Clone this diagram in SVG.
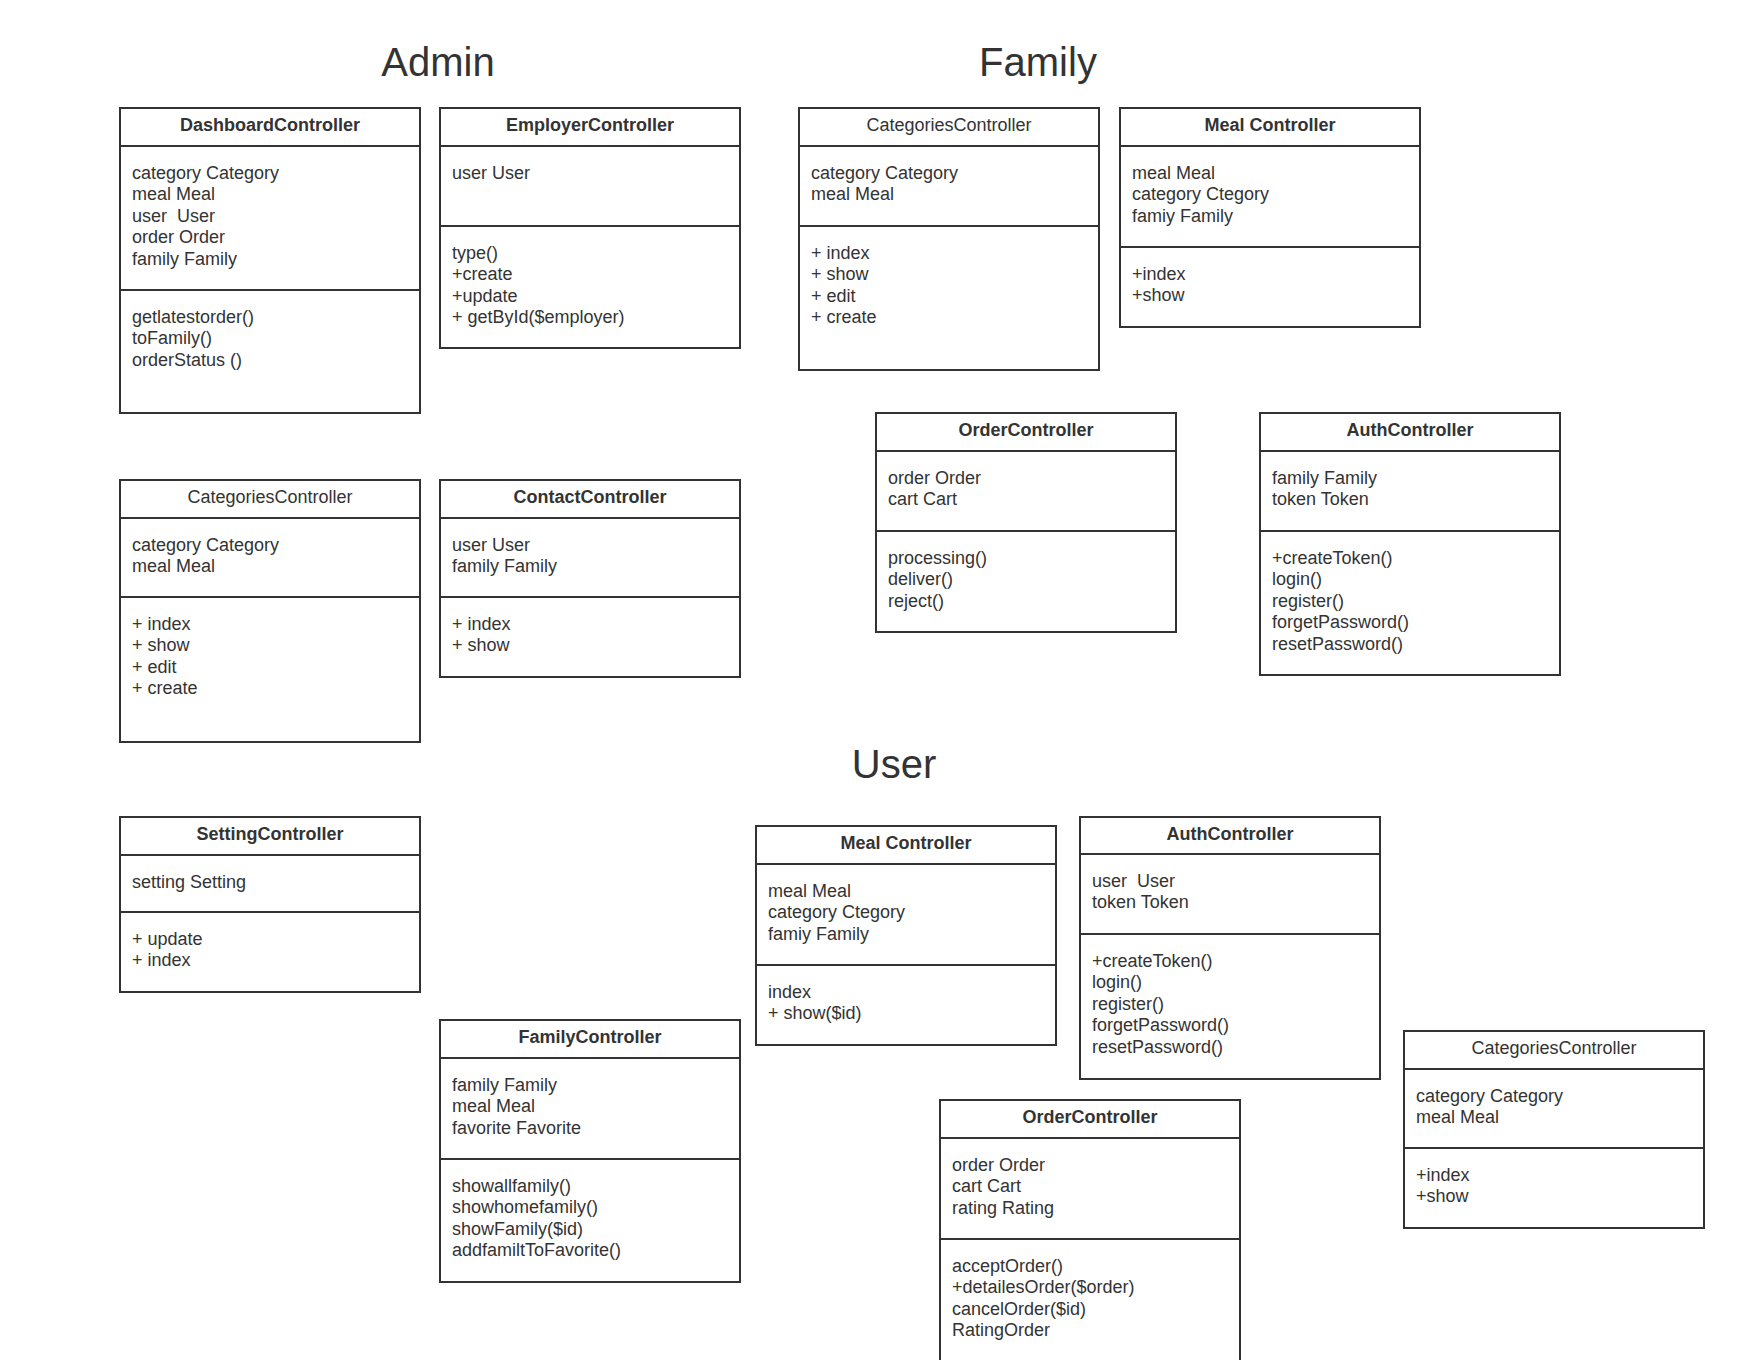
<svg xmlns="http://www.w3.org/2000/svg" width="1760" height="1360" viewBox="0 0 1760 1360">
<style>
.bg{fill:#ffffff}
.box{fill:#ffffff;stroke:#333333;stroke-width:2}
.sep{stroke:#333333;stroke-width:2;fill:none}
.t{font-family:"Liberation Sans",Arial,sans-serif;font-size:18px;fill:#333333;white-space:pre}
.n{font-family:"Liberation Sans",Arial,sans-serif;font-size:18px;fill:#333333;text-anchor:middle}
.nb{font-weight:bold}
.h{font-family:"Liberation Sans",Arial,sans-serif;font-size:40px;fill:#333333;text-anchor:middle}
</style>
<rect class="bg" x="0" y="0" width="1760" height="1360"/>
<g id="titles">
<text class="h" x="438" y="76">Admin</text>
<text class="h" x="1038" y="76">Family</text>
<text class="h" x="894" y="778">User</text>
</g>
<g id="connectors"></g>

<g id="admin-dashboard">
<rect class="box" x="120" y="108" width="300" height="305"/>
<path class="sep" d="M120 146H420M120 290H420"/>
<text class="n nb" x="270" y="131">DashboardController</text>
<text class="t" x="132" y="178.5"><tspan x="132">category Category</tspan><tspan x="132" dy="21.6">meal Meal</tspan><tspan x="132" dy="21.6">user  User</tspan><tspan x="132" dy="21.6">order Order</tspan><tspan x="132" dy="21.6">family Family</tspan></text>
<text class="t" x="132" y="322.5"><tspan x="132">getlatestorder()</tspan><tspan x="132" dy="21.6">toFamily()</tspan><tspan x="132" dy="21.6">orderStatus ()</tspan></text>
</g>

<g id="admin-employer">
<rect class="box" x="440" y="108" width="300" height="240"/>
<path class="sep" d="M440 146H740M440 226H740"/>
<text class="n nb" x="590" y="131">EmployerController</text>
<text class="t" x="452" y="178.5">user User</text>
<text class="t" x="452" y="258.5"><tspan x="452">type()</tspan><tspan x="452" dy="21.6">+create</tspan><tspan x="452" dy="21.6">+update</tspan><tspan x="452" dy="21.6">+ getById($employer)</tspan></text>
</g>

<g id="family-categories">
<rect class="box" x="799" y="108" width="300" height="262"/>
<path class="sep" d="M799 146H1099M799 226H1099"/>
<text class="n" x="949" y="131">CategoriesController</text>
<text class="t" x="811" y="178.5"><tspan x="811">category Category</tspan><tspan x="811" dy="21.6">meal Meal</tspan></text>
<text class="t" x="811" y="258.5"><tspan x="811">+ index</tspan><tspan x="811" dy="21.6">+ show</tspan><tspan x="811" dy="21.6">+ edit</tspan><tspan x="811" dy="21.6">+ create</tspan></text>
</g>

<g id="family-meal">
<rect class="box" x="1120" y="108" width="300" height="219"/>
<path class="sep" d="M1120 146H1420M1120 247H1420"/>
<text class="n nb" x="1270" y="131">Meal Controller</text>
<text class="t" x="1132" y="178.5"><tspan x="1132">meal Meal</tspan><tspan x="1132" dy="21.6">category Ctegory</tspan><tspan x="1132" dy="21.6">famiy Family</tspan></text>
<text class="t" x="1132" y="279.5"><tspan x="1132">+index</tspan><tspan x="1132" dy="21.6">+show</tspan></text>
</g>

<g id="admin-categories">
<rect class="box" x="120" y="480" width="300" height="262"/>
<path class="sep" d="M120 518H420M120 597H420"/>
<text class="n" x="270" y="503">CategoriesController</text>
<text class="t" x="132" y="550.5"><tspan x="132">category Category</tspan><tspan x="132" dy="21.6">meal Meal</tspan></text>
<text class="t" x="132" y="629.5"><tspan x="132">+ index</tspan><tspan x="132" dy="21.6">+ show</tspan><tspan x="132" dy="21.6">+ edit</tspan><tspan x="132" dy="21.6">+ create</tspan></text>
</g>

<g id="admin-contact">
<rect class="box" x="440" y="480" width="300" height="197"/>
<path class="sep" d="M440 518H740M440 597H740"/>
<text class="n nb" x="590" y="503">ContactController</text>
<text class="t" x="452" y="550.5"><tspan x="452">user User</tspan><tspan x="452" dy="21.6">family Family</tspan></text>
<text class="t" x="452" y="629.5"><tspan x="452">+ index</tspan><tspan x="452" dy="21.6">+ show</tspan></text>
</g>

<g id="family-order">
<rect class="box" x="876" y="413" width="300" height="219"/>
<path class="sep" d="M876 451H1176M876 531H1176"/>
<text class="n nb" x="1026" y="436">OrderController</text>
<text class="t" x="888" y="483.5"><tspan x="888">order Order</tspan><tspan x="888" dy="21.6">cart Cart</tspan></text>
<text class="t" x="888" y="563.5"><tspan x="888">processing()</tspan><tspan x="888" dy="21.6">deliver()</tspan><tspan x="888" dy="21.6">reject()</tspan></text>
</g>

<g id="family-auth">
<rect class="box" x="1260" y="413" width="300" height="262"/>
<path class="sep" d="M1260 451H1560M1260 531H1560"/>
<text class="n nb" x="1410" y="436">AuthController</text>
<text class="t" x="1272" y="483.5"><tspan x="1272">family Family</tspan><tspan x="1272" dy="21.6">token Token</tspan></text>
<text class="t" x="1272" y="563.5"><tspan x="1272">+createToken()</tspan><tspan x="1272" dy="21.6">login()</tspan><tspan x="1272" dy="21.6">register()</tspan><tspan x="1272" dy="21.6">forgetPassword()</tspan><tspan x="1272" dy="21.6">resetPassword()</tspan></text>
</g>

<g id="admin-setting">
<rect class="box" x="120" y="817" width="300" height="175"/>
<path class="sep" d="M120 855H420M120 912H420"/>
<text class="n nb" x="270" y="840">SettingController</text>
<text class="t" x="132" y="887.5">setting Setting</text>
<text class="t" x="132" y="944.5"><tspan x="132">+ update</tspan><tspan x="132" dy="21.6">+ index</tspan></text>
</g>

<g id="user-meal">
<rect class="box" x="756" y="826" width="300" height="219"/>
<path class="sep" d="M756 864H1056M756 965H1056"/>
<text class="n nb" x="906" y="849">Meal Controller</text>
<text class="t" x="768" y="896.5"><tspan x="768">meal Meal</tspan><tspan x="768" dy="21.6">category Ctegory</tspan><tspan x="768" dy="21.6">famiy Family</tspan></text>
<text class="t" x="768" y="997.5"><tspan x="768">index</tspan><tspan x="768" dy="21.6">+ show($id)</tspan></text>
</g>

<g id="user-auth">
<rect class="box" x="1080" y="817" width="300" height="262"/>
<path class="sep" d="M1080 854H1380M1080 934H1380"/>
<text class="n nb" x="1230" y="840">AuthController</text>
<text class="t" x="1092" y="886.5"><tspan x="1092">user  User</tspan><tspan x="1092" dy="21.6">token Token</tspan></text>
<text class="t" x="1092" y="966.5"><tspan x="1092">+createToken()</tspan><tspan x="1092" dy="21.6">login()</tspan><tspan x="1092" dy="21.6">register()</tspan><tspan x="1092" dy="21.6">forgetPassword()</tspan><tspan x="1092" dy="21.6">resetPassword()</tspan></text>
</g>

<g id="user-family">
<rect class="box" x="440" y="1020" width="300" height="262"/>
<path class="sep" d="M440 1058H740M440 1159H740"/>
<text class="n nb" x="590" y="1043">FamilyController</text>
<text class="t" x="452" y="1090.5"><tspan x="452">family Family</tspan><tspan x="452" dy="21.6">meal Meal</tspan><tspan x="452" dy="21.6">favorite Favorite</tspan></text>
<text class="t" x="452" y="1191.5"><tspan x="452">showallfamily()</tspan><tspan x="452" dy="21.6">showhomefamily()</tspan><tspan x="452" dy="21.6">showFamily($id)</tspan><tspan x="452" dy="21.6">addfamiltToFavorite()</tspan></text>
</g>

<g id="user-order">
<rect class="box" x="940" y="1100" width="300" height="300"/>
<path class="sep" d="M940 1138H1240M940 1239H1240"/>
<text class="n nb" x="1090" y="1123">OrderController</text>
<text class="t" x="952" y="1170.5"><tspan x="952">order Order</tspan><tspan x="952" dy="21.6">cart Cart</tspan><tspan x="952" dy="21.6">rating Rating</tspan></text>
<text class="t" x="952" y="1271.5"><tspan x="952">acceptOrder()</tspan><tspan x="952" dy="21.6">+detailesOrder($order)</tspan><tspan x="952" dy="21.6">cancelOrder($id)</tspan><tspan x="952" dy="21.6">RatingOrder</tspan></text>
</g>

<g id="user-categories">
<rect class="box" x="1404" y="1031" width="300" height="197"/>
<path class="sep" d="M1404 1069H1704M1404 1148H1704"/>
<text class="n" x="1554" y="1054">CategoriesController</text>
<text class="t" x="1416" y="1101.5"><tspan x="1416">category Category</tspan><tspan x="1416" dy="21.6">meal Meal</tspan></text>
<text class="t" x="1416" y="1180.5"><tspan x="1416">+index</tspan><tspan x="1416" dy="21.6">+show</tspan></text>
</g>
</svg>
